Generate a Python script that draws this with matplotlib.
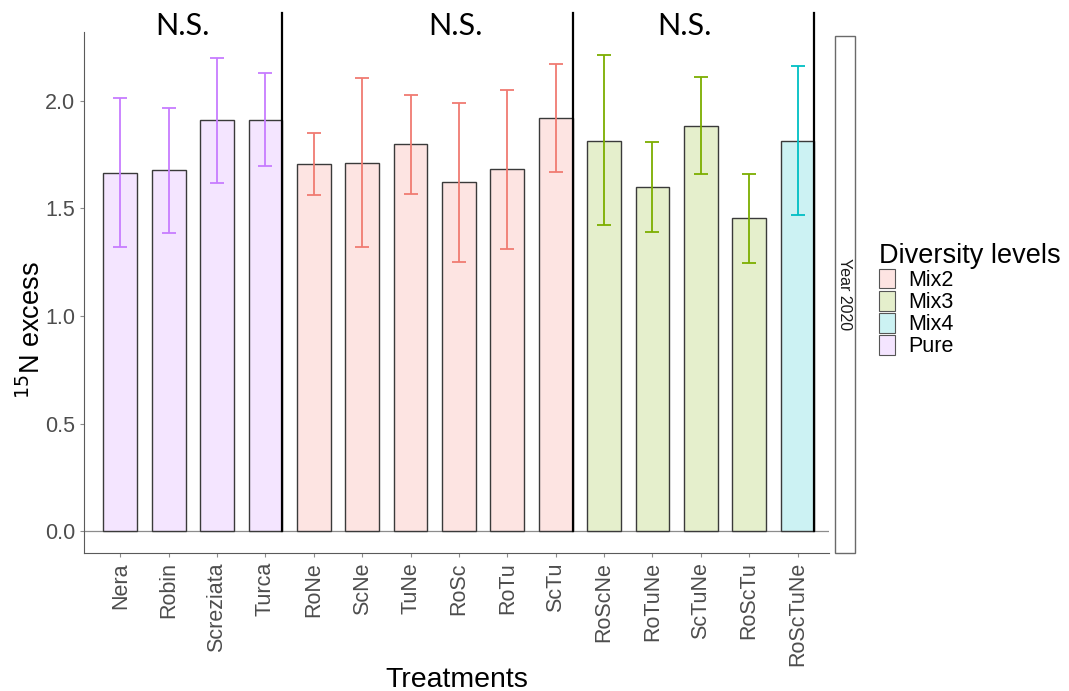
import matplotlib.pyplot as plt
from matplotlib.patches import Patch, Rectangle

plt.rcParams['font.family'] = ['Liberation Sans', 'DejaVu Sans']

# data
treatments = ['Nera', 'Robin', 'Screziata', 'Turca',
              'RoNe', 'ScNe', 'TuNe', 'RoSc', 'RoTu', 'ScTu',
              'RoScNe', 'RoTuNe', 'ScTuNe', 'RoScTu', 'RoScTuNe']
levels = ['Pure'] * 4 + ['Mix2'] * 6 + ['Mix3'] * 4 + ['Mix4']
means = [1.665, 1.677, 1.911, 1.911,
         1.706, 1.712, 1.799, 1.621, 1.682, 1.922,
         1.815, 1.599, 1.885, 1.454, 1.815]
err_low = [1.319, 1.387, 1.620, 1.695,
           1.560, 1.319, 1.569, 1.250, 1.311, 1.667,
           1.423, 1.388, 1.659, 1.246, 1.468]
err_high = [2.011, 1.966, 2.201, 2.130,
            1.852, 2.106, 2.025, 1.990, 2.050, 2.173,
            2.212, 1.808, 2.111, 1.662, 2.162]
legend_levels = ['Mix2', 'Mix3', 'Mix4', 'Pure']
sig_labels = ['N.S.', 'N.S.', 'N.S.']
sig_x = [1.28, 6.92, 11.67]
group_ends = [3, 9, 14]

line_col = {'Mix2': '#F07B72', 'Mix3': '#7CAE00', 'Mix4': '#00BFC4', 'Pure': '#C77CFF'}
fill_col = {'Mix2': '#FDE4E2', 'Mix3': '#E5EFCC', 'Mix4': '#CCF2F3', 'Pure': '#F4E5FF'}

fig = plt.figure(figsize=(10.69, 6.91), dpi=100)
ax = fig.add_axes([0.0786, 0.1997, 0.6969, 0.754])

bar_w = 0.7
x = list(range(len(treatments)))
for i in x:
    lv = levels[i]
    ax.bar(i, means[i], width=bar_w, color=fill_col[lv], edgecolor='#3a3a3a', linewidth=1.0, zorder=2)
    ax.errorbar(i, means[i], yerr=[[means[i] - err_low[i]], [err_high[i] - means[i]]],
                fmt='none', ecolor=line_col[lv], elinewidth=1.3, capsize=5, capthick=1.3, zorder=3)

ax.axhline(0, color='#8c8c8c', linewidth=0.9, zorder=1)

# black separators between diversity groups
for g in group_ends:
    ax.plot([g + bar_w / 2, g + bar_w / 2], [0, 2.41], color='black', linewidth=1.6,
            clip_on=False, zorder=4)

for sx, s in zip(sig_x, sig_labels):
    ax.text(sx, 2.35, s, ha='center', va='center', fontsize=22, family=['Lato', 'DejaVu Sans'])

ax.set_xlim(-0.75, 14.65)
ax.set_ylim(-0.102, 2.32)
ax.set_yticks([0.0, 0.5, 1.0, 1.5, 2.0])
ax.set_yticklabels(['0.0', '0.5', '1.0', '1.5', '2.0'])
ax.set_xticks(x)
ax.set_xticklabels(treatments, rotation=90)
ax.tick_params(axis='both', colors='#8c8c8c', labelcolor='#4d4d4d', labelsize=15.5, length=3)
ax.spines['top'].set_visible(False)
ax.spines['right'].set_visible(False)
ax.spines['left'].set_color('#5a5a5a')
ax.spines['bottom'].set_color('#5a5a5a')
ax.set_xlabel('Treatments', fontsize=20.5, va='top')
ax.xaxis.set_label_coords(0.5, -0.219)
ax.set_ylabel('$^{15}$N excess', fontsize=19.5, va='center')
ax.yaxis.set_label_coords(-0.07, 0.428)

# facet strip on the right
fig.patches.append(Rectangle((0.781, 0.1997), 0.0187, 0.7483, transform=fig.transFigure,
                             facecolor='white', edgecolor='#6a6a6a', linewidth=1.0))
fig.text(0.781 + 0.0187 / 2, 0.1997 + 0.7483 / 2, 'Year 2020', rotation=-90,
         ha='center', va='center', fontsize=11.5, color='#1a1a1a')

handles = [Patch(facecolor=fill_col[l], edgecolor='#555555', linewidth=0.8) for l in legend_levels]
leg = fig.legend(handles, legend_levels, title='Diversity levels', loc='upper left',
                 bbox_to_anchor=(0.822, 0.648), frameon=False, fontsize=15.5,
                 title_fontsize=19.5, handlelength=0.75, handleheight=1.0,
                 labelspacing=0.0, handletextpad=0.6, borderaxespad=0, borderpad=0)
leg._legend_box.align = 'left'

fig.savefig('out.png', dpi=100)
